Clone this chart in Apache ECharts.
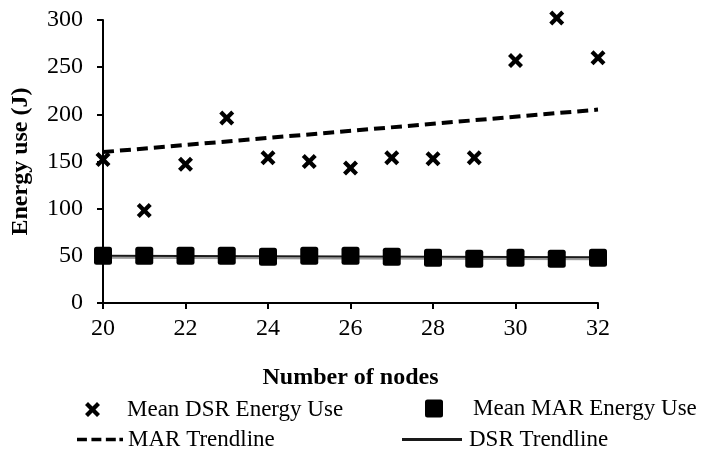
<!DOCTYPE html>
<html lang="en">
<head>
  <meta charset="UTF-8">
  <title>energy-use</title>
  <script src="https://cdn.jsdelivr.net/npm/echarts@6/dist/echarts.min.js"></script>
</head>
<body style="margin:0">
  <div id="chart" style="width: 710px; height: 449px;"></div>
  <script type="text/javascript">
    // number of nodes on the x axis
    var nodes = [20, 21, 22, 23, 24, 25, 26, 27, 28, 29, 30, 31, 32];
    // mean energy use (J)
    var dsrEnergy = [152, 98, 147, 196, 154, 150, 143, 154, 153, 154, 257, 302, 260];
    var marEnergy = [50, 50, 50, 50, 49, 50, 50, 49, 48, 47, 48, 47, 48];
    // trendline end points, as drawn in the chart
    var trendX = [20, 32];
    var marTrend = [160, 205];
    var dsrTrend = [50, 48.4];

    function pairs(xs, ys) {
      return xs.map(function (x, i) { return [x, ys[i]]; });
    }

    var font = '"Liberation Serif", "Times New Roman", serif';
    // chunky cross like the excel marker
    var xMark = 'path://M0,2 L2,0 L5,3 L8,0 L10,2 L7,5 L10,8 L8,10 L5,7 L2,10 L0,8 L3,5 Z';
    var squareMark = 'path://M2.5,0 H15.5 Q18,0 18,2.5 V15.5 Q18,18 15.5,18 H2.5 Q0,18 0,15.5 V2.5 Q0,0 2.5,0 Z';
    var dashIcon = 'path://M0,0h11v4h-11z M16,0h11v4h-11z M32,0h11v4h-11z M47,0h4v4h-4z';
    var solidIcon = 'path://M0,0h60v3h-60z';

    // one legend box per entry so each can sit where the original puts it
    function legendAt(name, icon, left, top, w, h, pad) {
      return {
        data: [{ name: name, icon: icon }],
        left: left, top: top,
        itemWidth: w, itemHeight: h,
        padding: 0,
        textStyle: { fontFamily: font, fontSize: 23, color: '#000', padding: [0, 0, 0, pad] }
      };
    }

    var option = {
      animation: false,
      textStyle: { fontFamily: font },
      grid: { left: 103, right: 112, top: 20, bottom: 146 },
      legend: [
        legendAt('Mean DSR Energy Use', xMark, 85, 398, 15, 15, 22),
        legendAt('Mean MAR Energy Use', squareMark, 425, 397, 18, 18, 25),
        legendAt('MAR Trendline', dashIcon, 77, 428, 46, 4, 0),
        legendAt('DSR Trendline', solidIcon, 402, 428, 64, 3, 0)
      ],
      xAxis: {
        type: 'value',
        min: 20, max: 32, interval: 2,
        name: 'Number of nodes',
        nameLocation: 'middle',
        nameGap: 63,
        nameTextStyle: { fontFamily: font, fontSize: 24, fontWeight: 'bold', color: '#000' },
        axisLine: { lineStyle: { color: '#000', width: 2 } },
        axisTick: { show: true, inside: false, length: 6, lineStyle: { color: '#000', width: 2 } },
        axisLabel: { fontFamily: font, fontSize: 24, color: '#000', margin: 14 },
        splitLine: { show: false }
      },
      yAxis: {
        type: 'value',
        min: 0, max: 300, interval: 50,
        name: 'Energy use (J)',
        nameLocation: 'middle',
        nameGap: 70,
        nameTextStyle: { fontFamily: font, fontSize: 24, fontWeight: 'bold', color: '#000' },
        axisLine: { show: true, lineStyle: { color: '#000', width: 2 } },
        axisTick: { show: true, length: 6, lineStyle: { color: '#000', width: 2 } },
        axisLabel: { fontFamily: font, fontSize: 24, color: '#000', margin: 20 },
        splitLine: { show: false }
      },
      series: [
        {
          name: 'MAR Trendline',
          type: 'line',
          data: pairs(trendX, marTrend),
          symbol: 'none',
          z: 2,
          lineStyle: { color: '#000', width: 4, type: [11, 6] },
          itemStyle: { color: '#000' }
        },
        {
          name: 'DSR Trendline',
          type: 'line',
          data: pairs(trendX, dsrTrend),
          symbol: 'none',
          z: 2,
          lineStyle: { color: '#1a1a1a', width: 2, shadowColor: '#9a9a9a', shadowOffsetY: 2, shadowBlur: 0 },
          itemStyle: { color: '#1a1a1a' }
        },
        {
          name: 'Mean DSR Energy Use',
          type: 'scatter',
          data: pairs(nodes, dsrEnergy),
          symbol: xMark,
          symbolSize: 15,
          clip: false,
          z: 3,
          itemStyle: { color: '#000', opacity: 1 }
        },
        {
          name: 'Mean MAR Energy Use',
          type: 'scatter',
          data: pairs(nodes, marEnergy),
          symbol: squareMark,
          symbolSize: 18,
          clip: false,
          z: 3,
          itemStyle: { color: '#000', opacity: 1 }
        }
      ]
    };

    var chart = echarts.init(document.getElementById('chart'));
    chart.setOption(option);
  </script>
</body>
</html>
